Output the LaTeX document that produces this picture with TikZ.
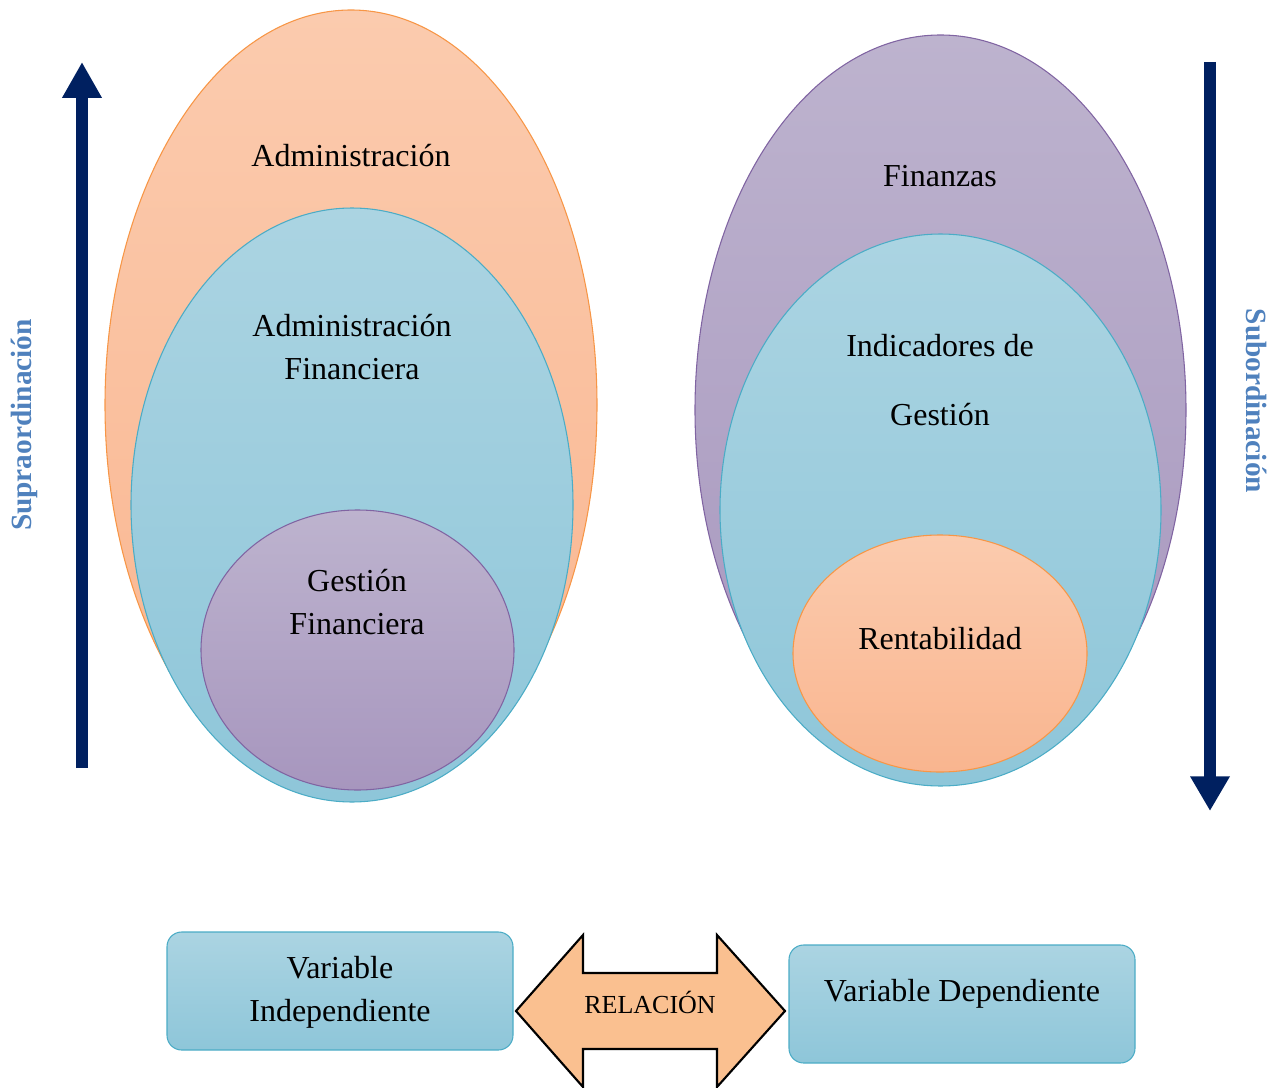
\documentclass[tikz,border=0pt]{standalone}
\usepackage{fontspec}
\setmainfont{Liberation Serif}
\usetikzlibrary{shapes.geometric,arrows.meta,positioning}

\definecolor{navy}{HTML}{002060}
\definecolor{steel}{HTML}{4F81BD}
\definecolor{orline}{HTML}{F79646}
\definecolor{ortop}{HTML}{FBCBAE}
\definecolor{orbot}{HTML}{F9B58F}
\definecolor{blline}{HTML}{4BACC6}
\definecolor{bltop}{HTML}{ABD4E2}
\definecolor{blbot}{HTML}{8EC6D9}
\definecolor{puline}{HTML}{8064A2}
\definecolor{putop}{HTML}{BDB3CE}
\definecolor{pubot}{HTML}{A796BE}
\definecolor{relfill}{HTML}{FAC090}

\begin{document}
\begin{tikzpicture}[x=0.75pt,y=-0.75pt,
    oval/.style={ellipse,inner sep=0pt,line width=0.8pt},
    peach/.style={oval,draw=orline,top color=ortop,bottom color=orbot},
    aqua/.style={oval,draw=blline,top color=bltop,bottom color=blbot},
    lilac/.style={oval,draw=puline,top color=putop,bottom color=pubot},
    lbl/.style={align=center,font=\fontsize{24}{32.25}\selectfont},
    side/.style={text=steel,font=\bfseries\fontsize{22}{26}\selectfont},
    varbox/.style={draw=blline,line width=0.8pt,rounded corners=11pt,
      top color=bltop,bottom color=blbot,minimum width=259.5pt,minimum height=88.5pt}]
  \useasboundingbox (0,0) rectangle (1286,1088);

  % left group
  \node[peach,minimum width=369pt,minimum height=592.5pt] (adm) at (351,405) {};
  \node[aqua,minimum width=331.5pt,minimum height=445.5pt] (admfin) at (352,505) {};
  \node[lilac,minimum width=234.75pt,minimum height=210pt] (gesfin) at (357.5,650) {};
  \node[lbl] (tadm) at (351,156) {Administración};
  \node[lbl] (tadmfin) at (352,347) {Administración\\Financiera};
  \node[lbl] (tgesfin) at (357,602) {Gestión\\Financiera};

  % right group
  \node[lilac,minimum width=368.25pt,minimum height=562.5pt] (fin) at (940.5,410) {};
  \node[aqua,minimum width=330.75pt,minimum height=414pt] (indic) at (940.5,510) {};
  \node[peach,minimum width=220.5pt,minimum height=177.75pt] (rent) at (940,653.5) {};
  \node[lbl] (tfin) at (940,176) {Finanzas};
  \node[lbl] (tindic) at (940,380) {Indicadores de\\[20pt]Gestión};
  \node[lbl] (trent) at (940,639) {Rentabilidad};

  % side arrows
  \coordinate (upbot) at (82,768);
  \coordinate (uptop) at (82,62);
  \coordinate (dntop) at (1210,62);
  \coordinate (dnbot) at (1210,811);
  \draw[navy,line width=9pt,-{Triangle[length=27pt,width=28pt]}] (upbot) -- (uptop);
  \draw[navy,line width=9pt,-{Triangle[length=26pt,width=28pt]}] (dntop) -- (dnbot);
  \node[side,rotate=90] (supra) at (24,425) {Supraordinación};
  \node[side,rotate=-90] (subor) at (1257,401) {Subordinación};

  % variables
  \node[varbox] (vind) at (340,991) {};
  \node[lbl] (tvind) at (340,992) {Variable\\Independiente};
  \node[varbox] (vdep) at (962,1004) {};
  \node[lbl] (tvdep) at (962,994) {Variable Dependiente};

  \draw[fill=relfill,line width=1.6pt,line join=miter]
    (516,1011) -- (583,935) -- (583,973) -- (717,973) -- (717,935) -- (785,1011)
    -- (717,1087) -- (717,1049) -- (583,1049) -- (583,1087) -- cycle;
  \node[font=\fontsize{19.5}{23}\selectfont] (rel) at (650,1002) {RELACIÓN};
\end{tikzpicture}
\end{document}
